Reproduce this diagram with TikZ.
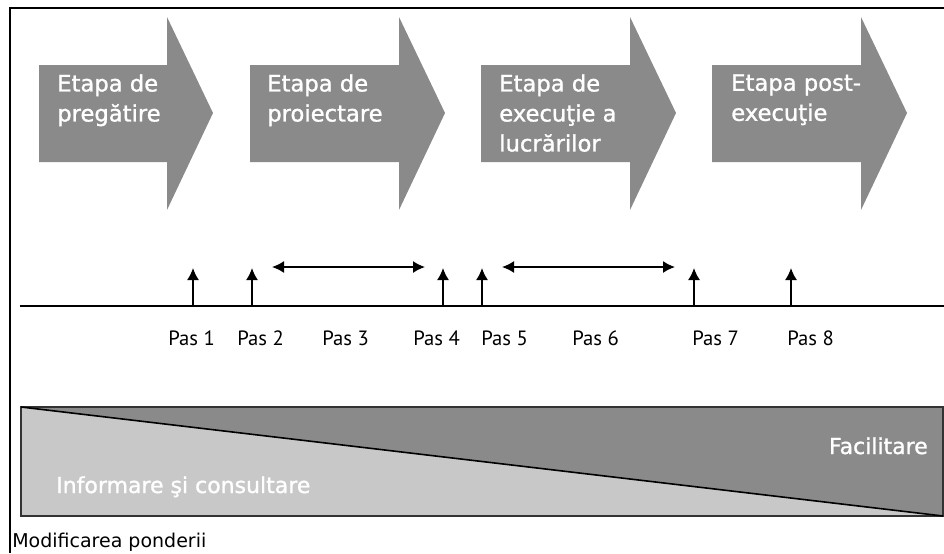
\documentclass[tikz,border=0pt]{standalone}
\usepackage{fontspec}
\setmainfont{DejaVu Sans}
\newfontfamily\stagefont[FakeBold=1.2]{DejaVu Sans}
\newfontfamily\pasfont{PT Sans}
\usetikzlibrary{arrows.meta}
\definecolor{stagegray}{RGB}{138,138,138}
\definecolor{weightlight}{RGB}{200,200,200}
\tikzset{
  stage/.style={anchor=north west,inner sep=0pt,align=left,text=white,font=\stagefont\fontsize{17}{22.5}\selectfont},
  paslabel/.style={anchor=base west,inner sep=0pt,font=\pasfont\fontsize{15.5}{18}\selectfont},
  steparrow/.style={line width=1.2pt,-{Latex[length=9pt,width=9pt]}},
  spanarrow/.style={line width=1.2pt,{Latex[length=9pt,width=9pt]}-{Latex[length=9pt,width=9pt]}},
  weightlabel/.style={inner sep=0pt,text=white,font=\stagefont\fontsize{16.5}{20}\selectfont},
}
\begin{document}
\begin{tikzpicture}[x=0.75pt,y=-0.75pt]
        \useasboundingbox (0,0) rectangle (944,553);
        %% frame
        \draw[line width=2pt] (10,553) -- (10,8) -- (944,8);
        %% stages
        \foreach \l/\t in {39/213,250/445,481/676,712/907}{
            \fill[stagegray] (\l,65) -- (\t-46,65) -- (\t-46,17) -- (\t,113)
                -- (\t-46,210) -- (\t-46,162) -- (\l,162) -- cycle;
        }
        \node[stage] (prep) at (57,74) {Etapa de\\pregătire};
        \node[stage] (proj) at (267,74) {Etapa de\\proiectare};
        \node[stage] (exec) at (499,74) {Etapa de\\execuţie a\\lucrărilor};
        \node[stage] (post) at (731,74) {Etapa post-\\execuţie};
        %% time line
        \coordinate (axisL) at (20,306);
        \coordinate (axisR) at (944,306);
        \draw[line width=1.2pt] (axisL) -- (axisR);
        \foreach \x/\n in {193/1,252/2,443/4,482/5,694/7,791/8}{
            \coordinate (base\n) at (\x,306);
            \coordinate (tip\n) at (\x,268);
            \draw[steparrow] (base\n) -- (tip\n);
        }
        \coordinate (s3a) at (272,267);
        \coordinate (s3b) at (425,267);
        \coordinate (s6a) at (502,267);
        \coordinate (s6b) at (675,267);
        \draw[spanarrow] (s3a) -- (s3b);
        \draw[spanarrow] (s6a) -- (s6b);
        \foreach \x/\n in {168/1,237/2,322/3,413/4,481/5,572/6,692/7,787/8}{
            \node[paslabel] (pas\n) at (\x,345) {Pas \n};
        }
        %% weighting
        \fill[weightlight] (21,407) rectangle (943,516);
        \fill[stagegray] (21,407) -- (943,407) -- (943,516) -- cycle;
        \draw[line width=0.8pt,black!80] (21,407) rectangle (943,516);
        \draw[line width=1.2pt] (21,407) -- (943,516);
        \node[weightlabel,anchor=base west] (info) at (56,493) {Informare şi consultare};
        \node[weightlabel,anchor=base east] (facil) at (928,454) {Facilitare};
        \node[anchor=base west,inner sep=0pt,font=\fontsize{14.25}{17}\selectfont] (pond) at (12,547) {Modificarea ponderii};
    \end{tikzpicture}
\end{document}
